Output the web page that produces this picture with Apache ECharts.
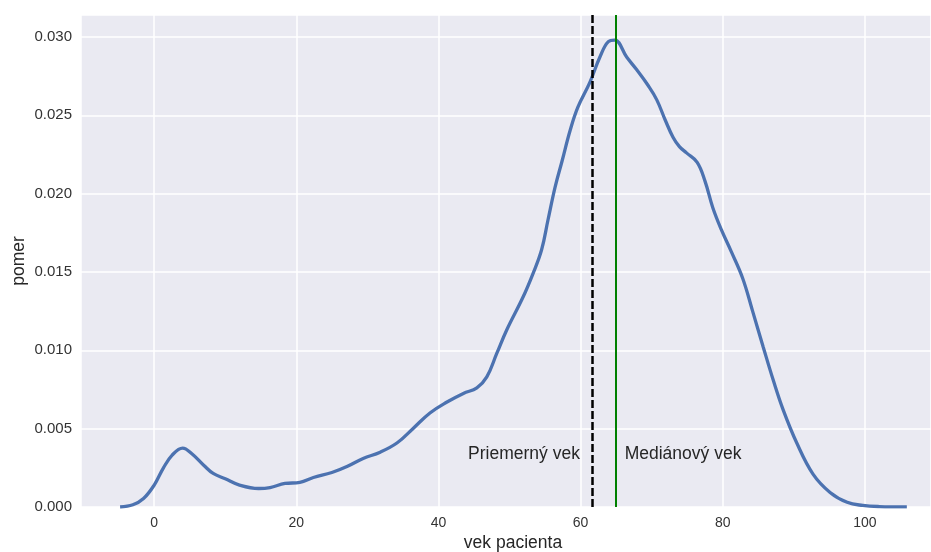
<!DOCTYPE html>
<html>
<head>
<meta charset="utf-8">
<script src="https://cdn.jsdelivr.net/npm/echarts@6/dist/echarts.min.js"></script>
<style>html,body{margin:0;padding:0;background:#fff;}#c{width:931px;height:552px;}</style>
</head>
<body>
<div id="c"></div>
<script>
// KDE of patient age
const ages = [-4.8,-3,-1.5,0,1.3,2.5,4,5.3,7,8.3,10,12,14.7,16.3,18.4,20.5,22.4,25,27.2,29.4,31.8,34.2,36.4,38.8,41.2,43.5,45.4,46.8,48.2,49.6,51.9,53.3,54.5,55.4,56.4,57.4,58.5,59.6,61.3,62.7,63.9,64.8,66.5,67.9,69.5,70.7,71.9,73,73.9,74.9,76.4,77.5,78.6,79.8,81.2,82.8,84.2,85.7,87.1,88.5,90.4,92.7,95.1,97.5,99.7,102,105.9];
const density = [0,0.00014,0.00054,0.0014,0.0025,0.0033,0.00376,0.0034,0.00265,0.00214,0.0018,0.0014,0.00118,0.00124,0.0015,0.00157,0.00188,0.0022,0.0026,0.0031,0.0035,0.0041,0.0050,0.0060,0.0067,0.00725,0.0076,0.0083,0.0098,0.0113,0.0134,0.0149,0.0164,0.0183,0.0204,0.0221,0.0240,0.0255,0.0271,0.0287,0.0297,0.0298,0.0287,0.0279,0.0269,0.0260,0.0247,0.0236,0.0230,0.0226,0.0220,0.0208,0.0191,0.0177,0.0163,0.0146,0.0125,0.0102,0.0081,0.0062,0.0041,0.0021,0.00093,0.0003,0.0001,0.00003,0.00001];
const meanAge = 61.7;
const medianAge = 65;
const meanLabel = 'Priemerný vek';
const medianLabel = 'Mediánový vek';
const labelY = 0.0034;
const xName = 'vek pacienta';
const yName = 'pomer';

const chart = echarts.init(document.getElementById('c'), null, {renderer:'canvas'});
const pts = ages.map((a,i)=>[a, density[i]]);
const font = 'Arial, "Liberation Sans", sans-serif';
chart.setOption({
  animation:false,
  backgroundColor:'#fff',
  grid:{left:81, top:15, right:0, bottom:45, show:true, backgroundColor:'#EAEAF2', borderWidth:0, outerBoundsMode:'none', containLabel:false},
  xAxis:{
    type:'value', min:-10.3, max:109.3,
    name:xName, nameLocation:'middle', nameGap:27, nameMoveOverlap:false,
    nameTextStyle:{fontSize:17.5, color:'#262626', fontFamily:font, padding:[0,0,0,14]},
    axisLine:{show:false}, axisTick:{show:false},
    axisLabel:{fontSize:14, color:'#333', fontFamily:font, margin:9, showMinLabel:false, showMaxLabel:false},
    splitLine:{show:true, lineStyle:{color:'#fff', width:1.5}}
  },
  yAxis:{
    type:'value', min:0, max:0.0314, interval:0.005,
    name:yName, nameLocation:'middle', nameGap:53, nameRotate:90, nameMoveOverlap:false,
    nameTextStyle:{fontSize:17.5, color:'#262626', fontFamily:font},
    axisLine:{show:false}, axisTick:{show:false},
    axisLabel:{fontSize:15, color:'#333', fontFamily:font, margin:9, showMaxLabel:false, formatter:v=>v.toFixed(3)},
    splitLine:{show:true, lineStyle:{color:'#fff', width:1.5}}
  },
  series:[{
    type:'line', data:pts, smooth:0.4, symbol:'none',
    lineStyle:{color:'#4C72B0', width:3.3},
    markLine:{
      silent:true, symbol:['none','none'], label:{show:false},
      data:[
        {xAxis:meanAge, lineStyle:{color:'#000', width:2.5, type:[8,3]}},
        {xAxis:medianAge, lineStyle:{color:'#008000', width:2, type:'solid'}}
      ]
    },
    markPoint:{
      silent:true, symbol:'circle', symbolSize:0,
      data:[
        {coord:[meanAge-1.8, labelY], label:{show:true, position:'inside', align:'right', verticalAlign:'middle', formatter:meanLabel, fontSize:17.5, color:'#262626', fontFamily:font}},
        {coord:[medianAge+1.2, labelY], label:{show:true, position:'inside', align:'left', verticalAlign:'middle', formatter:medianLabel, fontSize:17.5, color:'#262626', fontFamily:font}}
      ]
    }
  }]
});
</script>
</body>
</html>
